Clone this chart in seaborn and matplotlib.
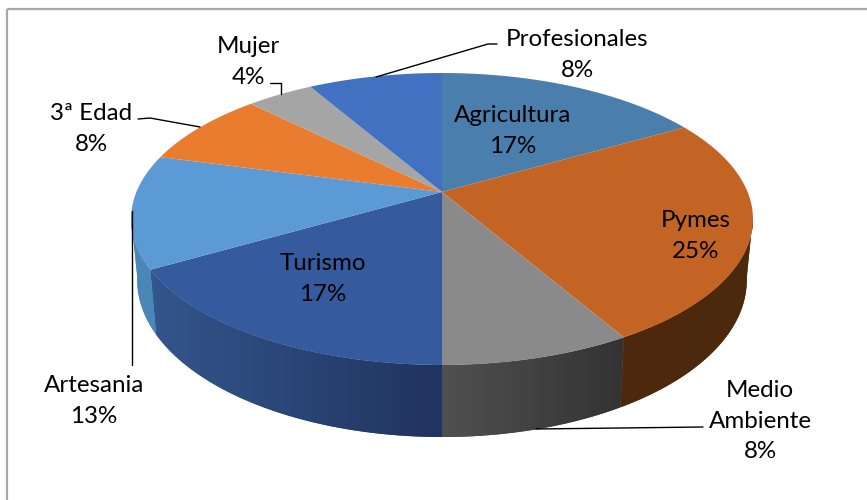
import numpy as np
import matplotlib
matplotlib.use('Agg')
import matplotlib.pyplot as plt
import seaborn as sns
from matplotlib.path import Path
from matplotlib.patches import PathPatch, Rectangle
from matplotlib.transforms import Transform, Affine2D

# counts behind the percentages
categories = ['Agricultura', 'Pymes', 'Medio\nAmbiente', 'Turismo', 'Artesania', '3ª Edad', 'Mujer', 'Profesionales']
counts = [4, 6, 2, 4, 3, 2, 1, 2]
percent_labels = ['17%', '25%', '8%', '17%', '13%', '8%', '4%', '8%']
top_colors = ['#4A7EAD', '#C46424', '#8A8A8A', '#355A9E', '#5B9AD5', '#EA7C30', '#A5A5A5', '#4271C1']
side_left = ['#3A6190', '#4E290D', '#505050', '#33568C', '#4A86B8', '#B05A20', '#777777', '#305090']
side_right = ['#2A4870', '#4C280C', '#333333', '#21335F', '#4A86B8', '#B05A20', '#777777', '#305090']
label_xy = [(513, 131), (696, 236), (760, 421), (323, 279), (94, 401), (91, 129), (248, 62), (577, 55)]
leaders = [None, None,
           [(703, 427), (536, 429)], None,
           [(132, 365), (132, 211)],
           [(138, 119), (150, 118), (200, 127)],
           [(270, 83), (281, 83), (281, 94)],
           [(497, 44), (488, 44), (376, 77)]]

# pie geometry in pixels
cx, cy = 442, 192
a, b, k = 305.6, 141.0, 0.185


def project(u, v):
    w = 1 + k * v
    return cx + a * u / w, cy - b * v / w


def lower_rim(x, y):
    # bottom plane sits a bit smaller than the top one
    return cx + 0.98 * (x - cx), cy + 59.2 + 1.074 * (y - cy)


class TiltTransform(Transform):
    input_dims = 2
    output_dims = 2
    is_affine = False

    def transform_non_affine(self, values):
        x, y = project(values[:, 0], values[:, 1])
        return np.column_stack([x, y])

    def transform_path_non_affine(self, path):
        polys = path.transformed(Affine2D().scale(2000)).to_polygons(closed_only=True)
        verts = np.vstack(polys) / 2000.0
        return Path(self.transform_non_affine(verts), closed=False)


sns.set_theme(style='white')
plt.rcParams['font.family'] = ['Lato', 'DejaVu Sans']

fig = plt.figure(figsize=(8.67, 5.0), dpi=100)
ax = fig.add_axes([0, 0, 1, 1])
wedges, _ = ax.pie(counts, colors=top_colors, startangle=90, counterclock=False, radius=1)
ax.set_aspect('auto')
ax.axis('off')

# chart frame, runs off the right and bottom of the picture
ax.add_patch(Rectangle((6.5, 8.5), 900, 550, fill=False, ec='#A8A8A8', lw=1.6))

tilt = TiltTransform() + ax.transData
gx = np.linspace(0, 1, 64).reshape(1, -1)
for i, wd in enumerate(wedges):
    # outer wall under the front part of the rim
    t1, t2 = sorted((wd.theta1, wd.theta2))
    t = np.radians(np.linspace(t1, t2, 200))
    x, y = project(np.cos(t), np.sin(t))
    keep = np.sin(t) < -k + 0.02
    if keep.sum() > 1:
        x, y = x[keep], y[keep]
        xl, yl = lower_rim(x, y)
        verts = np.vstack([np.column_stack([x, y]), np.column_stack([xl, yl])[::-1]])
        patch = PathPatch(Path(np.vstack([verts, verts[:1]]), closed=True), fc=side_left[i], ec='none', transform=ax.transData)
        ax.add_patch(patch)
        cmap = matplotlib.colors.LinearSegmentedColormap.from_list('s', [side_left[i], side_right[i]])
        im = ax.imshow(gx, cmap=cmap, aspect='auto', zorder=1.5,
                       extent=(verts[:, 0].min(), verts[:, 0].max(), verts[:, 1].max(), verts[:, 1].min()))
        im.set_clip_path(patch)
    wd.set_transform(tilt)
    wd.set_zorder(2)
    wd.set_edgecolor('none')
    wd.set_clip_on(False)

ax.set_xlim(0, 867)
ax.set_ylim(500, 0)

for pts in leaders:
    if pts:
        xs, ys = zip(*pts)
        ax.plot(xs, ys, color='black', lw=1, zorder=3, solid_joinstyle='miter')

for name, pct, (lx, ly) in zip(categories, percent_labels, label_xy):
    ax.text(lx, ly, name + '\n' + pct, ha='center', va='center', ma='center',
            fontsize=17.4, color='black', linespacing=1.55, zorder=4)

fig.savefig('out.png', dpi=100)
